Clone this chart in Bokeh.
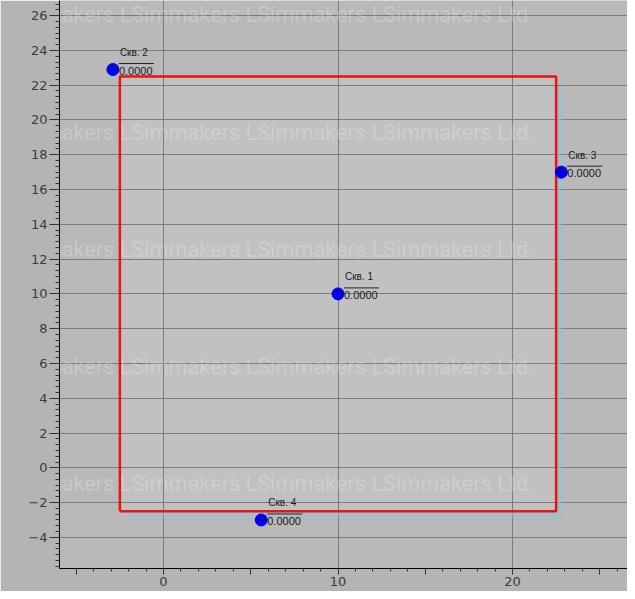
from bokeh.plotting import figure
from bokeh.models import ColumnDataSource, FixedTicker, Label, Grid, SingleIntervalTicker
from bokeh.core.properties import value
from bokeh.embed import file_html
from bokeh.resources import INLINE

# ---- data ----
well_names = ["Скв. 1", "Скв. 2", "Скв. 3", "Скв. 4"]
well_x = [10.0, -2.9, 22.8, 5.6]
well_y = [10.0, 22.9, 17.0, -3.0]
well_vals = ["0.0000", "0.0000", "0.0000", "0.0000"]

rect_left, rect_right = -2.5, 22.5
rect_bottom, rect_top = -2.5, 22.5

x_major_ticks = [-5, 0, 5, 10, 15, 20, 25]
x_labelled = [0, 10, 20]
x_grid_lines = [0, 10, 20]
y_major_step = 2

watermark_text = "Simmakers LSimmakers LSimmakers LSimmakers Ltd."
watermark_rows = [26.04, 19.30, 12.57, 5.83, -0.91]

# ---- figure ----
XR = (-5.96, 26.59)
YR = (-5.79, 26.87)
W, H = 627, 591
BL, BB = 59, 23
pxx = (W - BL) / (XR[1] - XR[0])   # px per x unit
pxy = (H - BB) / (YR[1] - YR[0])   # px per y unit

p = figure(width=W, height=H, x_range=XR, y_range=YR,
           output_backend="svg", toolbar_location=None,
           min_border_left=BL, min_border_bottom=BB,
           min_border_right=0, min_border_top=0)
p.border_fill_color = "#b4b4b4"
p.background_fill_color = "#b9b9b9"
p.outline_line_color = None

# grids
p.xgrid.visible = False
p.ygrid.ticker = SingleIntervalTicker(interval=y_major_step)
p.ygrid.grid_line_color = "#7c7c7c"
p.ygrid.grid_line_width = 1
vg = Grid(dimension=0, ticker=FixedTicker(ticks=x_grid_lines),
          grid_line_color="#7c7c7c", grid_line_width=1)
p.add_layout(vg)

# axes
p.xaxis.ticker = FixedTicker(ticks=x_major_ticks,
                             minor_ticks=list(range(-6, 28)))
p.xaxis.major_label_overrides = {t: ("" if t not in x_labelled else str(t)) for t in x_major_ticks}
p.yaxis.ticker = SingleIntervalTicker(interval=y_major_step, num_minor_ticks=6)
for ax in (p.xaxis[0], p.yaxis[0]):
    ax.axis_line_color = "black"
    ax.major_tick_line_color = "#333333"
    ax.minor_tick_line_color = "#333333"
    ax.major_tick_in = 0
    ax.minor_tick_in = 0
    ax.major_label_text_font = "DejaVu Sans"
    ax.major_label_text_font_size = "13px"
    ax.major_label_text_color = "#3c3c3c"
p.xaxis.major_tick_out = 6
p.xaxis.minor_tick_out = 3
p.xaxis.major_label_standoff = 2
p.yaxis.major_tick_out = 10
p.yaxis.minor_tick_out = 4
p.yaxis.major_label_standoff = 2

# inner rectangle fill
p.quad(left=[rect_left], right=[rect_right], bottom=[rect_bottom], top=[rect_top],
       fill_color="#c1c1c1", line_color=None, level="underlay")

# glow along right and bottom edges
glow_alphas = [0.8, 0.6, 0.4, 0.22, 0.08]
for i, a in enumerate(glow_alphas):
    d0, d1 = i * 2.0, (i + 1) * 2.0
    p.quad(left=[rect_right + d0 / pxx], right=[rect_right + d1 / pxx],
           bottom=[rect_bottom - d1 / pxy], top=[rect_top - 10 / pxy],
           fill_color="#8cc4dc", fill_alpha=a, line_color=None)
    p.quad(left=[rect_left + 8 / pxx], right=[rect_right + d0 / pxx],
           bottom=[rect_bottom - d1 / pxy], top=[rect_bottom - d0 / pxy],
           fill_color="#8cc4dc", fill_alpha=a, line_color=None)

# red rectangle
p.line(x=[rect_left, rect_right, rect_right, rect_left, rect_left],
       y=[rect_bottom, rect_bottom, rect_top, rect_top, rect_bottom],
       line_color="#ee1111", line_width=2.5)

# watermark (screen units relative to the frame, drawn as overlay)
for wy in watermark_rows:
    p.add_layout(Label(x=5 - BL, y=(wy - YR[0]) * pxy, x_units="screen", y_units="screen",
                       text=watermark_text,
                       text_font="Roboto", text_font_size="21.7px",
                       text_color="white", text_alpha=0.22,
                       text_baseline="middle", level="overlay"))

# wells
src = ColumnDataSource(dict(x=well_x, y=well_y, name=well_names, val=well_vals,
                            ox0=[xx + 6 / pxx for xx in well_x],
                            ox1=[xx + 41 / pxx for xx in well_x],
                            oy=[yy + 6 / pxy for yy in well_y],
                            lx1=[xx + 5 / pxx for xx in well_x],
                            ly1=[yy + 5 / pxy for yy in well_y]))
p.segment(x0="ox0", y0="oy", x1="ox1", y1="oy", source=src,
          line_color="#222222", line_width=1)
p.scatter(x="x", y="y", source=src, size=12, fill_color="#0000ee",
          line_color="#0000ee")
p.segment(x0="x", y0="y", x1="lx1", y1="ly1", source=src,
          line_color="#333333", line_width=1)
p.text(x="x", y="y", text="name", source=src, x_offset=7, y_offset=-17,
       text_font=value("Liberation Sans"), text_font_size="10px",
       text_color="#1a1a1a", text_baseline="middle")
p.text(x="x", y="y", text="val", source=src, x_offset=6, y_offset=1,
       text_font=value("Liberation Sans"), text_font_size="11px",
       text_color="#1a1a1a", text_baseline="middle")

open("out.html", "w").write(file_html(p, INLINE))
